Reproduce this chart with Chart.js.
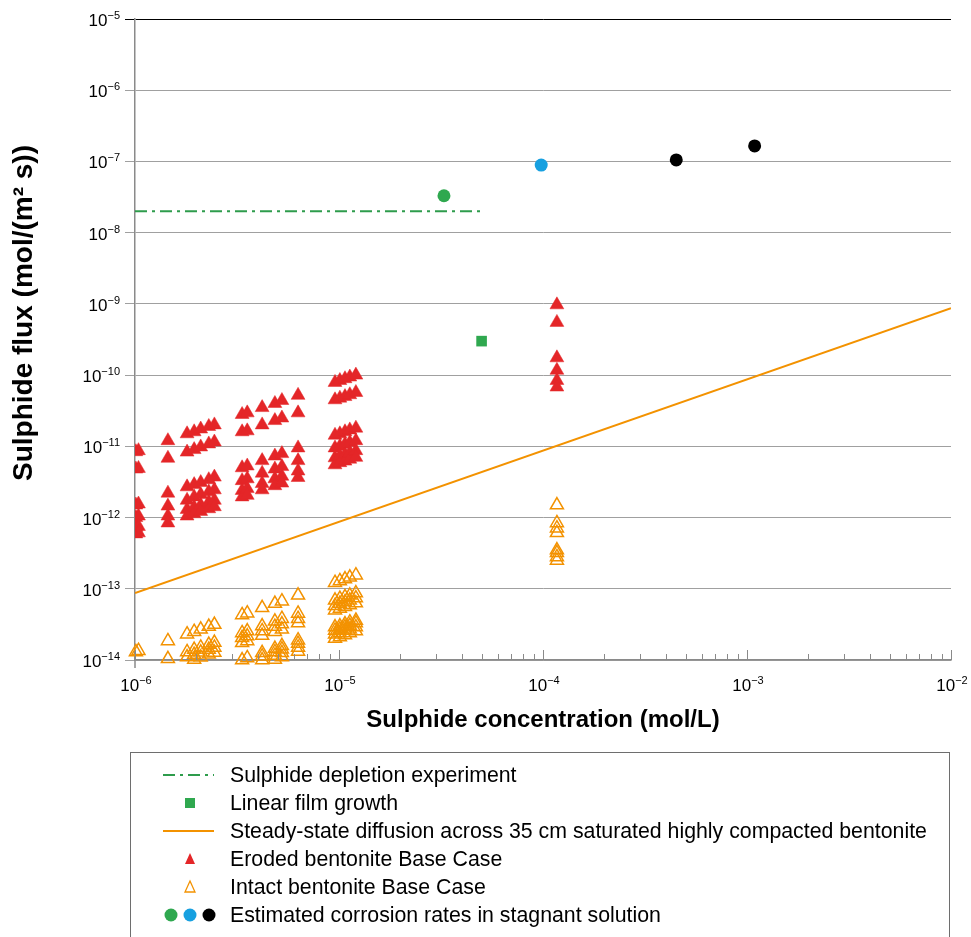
<!DOCTYPE html>
<html>
<head>
<meta charset="utf-8">
<script src="https://cdn.jsdelivr.net/npm/chart.js@4.4.1/dist/chart.umd.min.js"></script>
<style>
html,body{margin:0;padding:0;background:#fff;}
#wrap{width:971px;height:937px;position:relative;overflow:hidden;}
</style>
</head>
<body>
<div id="wrap"><canvas id="c" width="971" height="937"></canvas></div>
<script>
// ---------------- data ----------------
const xTickExponents = [-6, -5, -4, -3, -2];
const yTickExponents = [-5, -6, -7, -8, -9, -10, -11, -12, -13, -14];

const xAxisTitle = 'Sulphide concentration (mol/L)';
const yAxisTitle = 'Sulphide flux (mol/(m\u00B2 s))';

const legendLabels = [
  'Sulphide depletion experiment',
  'Linear film growth',
  'Steady-state diffusion across 35 cm saturated highly compacted bentonite',
  'Eroded bentonite Base Case',
  'Intact bentonite Base Case',
  'Estimated corrosion rates in stagnant solution'
];

const depletionConc = [1e-6, 5e-5];
const depletionFlux = [2e-8, 2e-8];

const filmConc = [5e-5];
const filmFlux = [3e-10];

const diffusionConc = [1e-6, 1e-2];
const diffusionFlux = [8.7e-14, 8.7e-10];

const corrosionConc = [3.27e-5, 9.8e-5, 4.5e-4, 1.09e-3];
const corrosionFlux = [3.3e-8, 8.9e-8, 1.05e-7, 1.65e-7];

const columnConc = [1.01e-6, 1.04e-6, 1.45e-6, 1.8e-6, 1.95e-6, 2.1e-6, 2.3e-6, 2.45e-6,
  3.35e-6, 3.55e-6, 4.2e-6, 4.85e-6, 5.25e-6, 6.3e-6,
  9.56e-6, 1.01e-5, 1.07e-5, 1.13e-5, 1.21e-5, 1.17e-4];

const erodedFlux = [
  [8.4e-12, 4.8e-12, 1.5e-12, 1.0e-12, 7.3e-13, 5.9e-13],
  [8.7e-12, 4.9e-12, 1.55e-12, 1.05e-12, 7.5e-13, 6.1e-13],
  [1.2e-11, 6.8e-12, 2.2e-12, 1.45e-12, 1.05e-12, 8.4e-13],
  [1.5e-11, 8.3e-12, 2.7e-12, 1.75e-12, 1.3e-12, 1.05e-12],
  [1.6e-11, 9.0e-12, 2.9e-12, 1.95e-12, 1.4e-12, 1.13e-12],
  [1.75e-11, 9.8e-12, 3.1e-12, 2.1e-12, 1.5e-12, 1.22e-12],
  [1.9e-11, 1.08e-11, 3.4e-12, 2.3e-12, 1.65e-12, 1.33e-12],
  [2.0e-11, 1.15e-11, 3.7e-12, 2.45e-12, 1.75e-12, 1.42e-12],
  [2.8e-11, 1.6e-11, 5.0e-12, 3.3e-12, 2.4e-12, 1.95e-12],
  [2.95e-11, 1.65e-11, 5.3e-12, 3.5e-12, 2.55e-12, 2.05e-12],
  [3.5e-11, 2.0e-11, 6.3e-12, 4.2e-12, 3.0e-12, 2.45e-12],
  [4.0e-11, 2.3e-11, 7.3e-12, 4.8e-12, 3.5e-12, 2.8e-12],
  [4.4e-11, 2.5e-11, 7.9e-12, 5.2e-12, 3.8e-12, 3.05e-12],
  [5.2e-11, 2.95e-11, 9.5e-12, 6.3e-12, 4.5e-12, 3.65e-12],
  [7.9e-11, 4.5e-11, 1.43e-11, 9.5e-12, 6.9e-12, 5.5e-12],
  [8.4e-11, 4.75e-11, 1.5e-11, 1.0e-11, 7.3e-12, 5.9e-12],
  [8.9e-11, 5.0e-11, 1.6e-11, 1.07e-11, 7.7e-12, 6.2e-12],
  [9.4e-11, 5.3e-11, 1.7e-11, 1.13e-11, 8.1e-12, 6.6e-12],
  [1.0e-10, 5.7e-11, 1.8e-11, 1.2e-11, 8.7e-12, 7.0e-12],
  [9.7e-10, 5.5e-10, 1.75e-10, 1.17e-10, 8.4e-11, 6.8e-11]
];

const intactFlux = [
  [1.3e-14],
  [1.35e-14],
  [1.85e-14, 1.04e-14],
  [2.3e-14, 1.3e-14, 1.1e-14],
  [2.5e-14, 1.4e-14, 1.19e-14, 1.02e-14],
  [2.7e-14, 1.5e-14, 1.28e-14, 1.09e-14],
  [2.95e-14, 1.65e-14, 1.4e-14, 1.2e-14],
  [3.15e-14, 1.76e-14, 1.5e-14, 1.27e-14],
  [4.3e-14, 2.4e-14, 2.05e-14, 1.74e-14, 1.0e-14],
  [4.55e-14, 2.55e-14, 2.17e-14, 1.85e-14, 1.07e-14],
  [5.4e-14, 3.0e-14, 2.56e-14, 2.2e-14, 1.26e-14, 1.13e-14, 1.0e-14],
  [6.2e-14, 3.5e-14, 2.95e-14, 2.5e-14, 1.45e-14, 1.3e-14, 1.16e-14, 1.02e-14],
  [6.7e-14, 3.8e-14, 3.2e-14, 2.7e-14, 1.58e-14, 1.42e-14, 1.26e-14, 1.1e-14],
  [8.1e-14, 4.5e-14, 3.8e-14, 3.3e-14, 1.9e-14, 1.7e-14, 1.5e-14, 1.32e-14],
  [1.22e-13, 6.9e-14, 5.8e-14, 5.0e-14, 2.9e-14, 2.6e-14, 2.3e-14, 2.0e-14],
  [1.29e-13, 7.3e-14, 6.2e-14, 5.3e-14, 3.0e-14, 2.7e-14, 2.4e-14, 2.1e-14],
  [1.37e-13, 7.7e-14, 6.5e-14, 5.6e-14, 3.2e-14, 2.9e-14, 2.6e-14, 2.25e-14],
  [1.45e-13, 8.1e-14, 6.9e-14, 5.9e-14, 3.4e-14, 3.05e-14, 2.7e-14, 2.4e-14],
  [1.55e-13, 8.7e-14, 7.4e-14, 6.3e-14, 3.6e-14, 3.3e-14, 2.9e-14, 2.55e-14],
  [1.5e-12, 8.4e-13, 7.1e-13, 6.1e-13, 3.5e-13, 3.2e-13, 2.8e-13, 2.5e-13]
];

// ---------------- styles ----------------
const C_RED = '#e42628';
const C_ORANGE = '#f39200';
const C_GREEN = '#2fa84f';
const C_GREEN_LINE = '#2e9c4c';
const C_BLUE = '#17a0e0';
const C_BLACK = '#000000';
const corrosionColors = [C_GREEN, C_BLUE, C_BLACK, C_BLACK];
const FONT = '"Liberation Sans", Arial, Helvetica, sans-serif';
const AXIS_COLOR = '#8a8a8a';
const GRID_COLOR = '#a0a0a0';

function pairs(xs, ys) { return xs.map((x, i) => ({x: x, y: ys[i]})); }
function columnPairs(cols, vals) {
  const out = [];
  cols.forEach((x, i) => vals[i].forEach(v => out.push({x: x, y: v})));
  return out;
}

function drawPower(ctx, exp, x, yBase, align, baseSize, supSize, supRise) {
  const base = '10';
  const sup = '\u2212' + Math.abs(exp);
  ctx.font = baseSize + 'px ' + FONT;
  const wb = ctx.measureText(base).width;
  ctx.font = supSize + 'px ' + FONT;
  const ws = ctx.measureText(sup).width;
  const total = wb + ws;
  const x0 = align === 'right' ? x - total : x - total / 2;
  ctx.textAlign = 'left';
  ctx.textBaseline = 'alphabetic';
  ctx.fillStyle = '#000';
  ctx.font = baseSize + 'px ' + FONT;
  ctx.fillText(base, x0, yBase);
  ctx.font = supSize + 'px ' + FONT;
  ctx.fillText(sup, x0 + wb, yBase - supRise);
}

const decorations = {
  id: 'decorations',
  afterDraw(chart) {
    const ctx = chart.ctx;
    const xs = chart.scales.x, ys = chart.scales.y;
    const area = chart.chartArea;
    ctx.save();

    // x minor / major ticks pointing inward
    ctx.strokeStyle = AXIS_COLOR;
    ctx.lineWidth = 1;
    const xMax = Math.pow(10, xTickExponents[xTickExponents.length - 1]);
    for (let i = 0; i < xTickExponents.length; i++) {
      const e = xTickExponents[i];
      for (let m = 1; m <= 9; m++) {
        const v = m * Math.pow(10, e);
        if (v > xMax * 1.0001) continue;
        const px = Math.round(xs.getPixelForValue(v)) + 0.5;
        const len = m === 1 ? 10 : 6;
        ctx.beginPath();
        ctx.moveTo(px, area.bottom);
        ctx.lineTo(px, area.bottom - len);
        ctx.stroke();
      }
    }
    // left axis extends slightly below
    ctx.lineWidth = 1.5;
    ctx.beginPath();
    ctx.moveTo(area.left, area.bottom);
    ctx.lineTo(area.left, area.bottom + 8);
    ctx.stroke();

    // x tick labels
    xTickExponents.forEach(e => {
      const px = xs.getPixelForValue(Math.pow(10, e));
      drawPower(ctx, e, px + 1, area.bottom + 31, 'center', 17, 11, 7);
    });
    // y tick labels
    yTickExponents.forEach(e => {
      const py = ys.getPixelForValue(Math.pow(10, e));
      drawPower(ctx, e, area.left - 15, py + 7, 'right', 17, 11, 7);
    });

    // axis titles
    ctx.fillStyle = '#000';
    ctx.font = 'bold 24px ' + FONT;
    ctx.textAlign = 'center';
    ctx.textBaseline = 'alphabetic';
    ctx.fillText(xAxisTitle, (area.left + area.right) / 2, area.bottom + 67);
    ctx.save();
    ctx.translate(32, 313);
    ctx.rotate(-Math.PI / 2);
    ctx.font = 'bold 28px ' + FONT;
    ctx.fillText(yAxisTitle, 0, 0);
    ctx.restore();

    // legend box
    ctx.strokeStyle = '#6e6e6e';
    ctx.lineWidth = 1;
    ctx.strokeRect(130.5, 752.5, 819, 220);
    const rowY = [775, 803, 831, 859, 887, 915];
    const textX = 230;
    ctx.font = '21.3px ' + FONT;
    ctx.textAlign = 'left';
    ctx.textBaseline = 'middle';
    ctx.fillStyle = '#000';
    legendLabels.forEach((t, i) => ctx.fillText(t, textX, rowY[i] + 1));

    // legend symbols
    ctx.lineWidth = 2;
    ctx.strokeStyle = C_GREEN_LINE;
    ctx.setLineDash([12, 5, 3, 5]);
    ctx.beginPath(); ctx.moveTo(163, rowY[0]); ctx.lineTo(214, rowY[0]); ctx.stroke();
    ctx.setLineDash([]);
    ctx.fillStyle = C_GREEN;
    ctx.fillRect(185, rowY[1] - 5, 10, 10);
    ctx.strokeStyle = C_ORANGE;
    ctx.beginPath(); ctx.moveTo(163, rowY[2]); ctx.lineTo(214, rowY[2]); ctx.stroke();
    ctx.fillStyle = C_RED;
    ctx.beginPath(); ctx.moveTo(190, rowY[3] - 6); ctx.lineTo(195, rowY[3] + 5); ctx.lineTo(185, rowY[3] + 5); ctx.closePath(); ctx.fill();
    ctx.strokeStyle = C_ORANGE; ctx.lineWidth = 1.3;
    ctx.beginPath(); ctx.moveTo(190, rowY[4] - 6); ctx.lineTo(195, rowY[4] + 5); ctx.lineTo(185, rowY[4] + 5); ctx.closePath(); ctx.stroke();
    [[171, C_GREEN], [190, C_BLUE], [209, C_BLACK]].forEach(([cx, col]) => {
      ctx.fillStyle = col;
      ctx.beginPath(); ctx.arc(cx, rowY[5], 6.5, 0, Math.PI * 2); ctx.fill();
    });

    ctx.restore();
  }
};

new Chart(document.getElementById('c'), {
  type: 'scatter',
  data: {
    datasets: [
      {
        label: legendLabels[0], type: 'line', data: pairs(depletionConc, depletionFlux),
        borderColor: C_GREEN_LINE, borderWidth: 2, borderDash: [12, 5, 3, 5],
        pointRadius: 0, showLine: true, fill: false
      },
      {
        label: legendLabels[2], type: 'line', data: pairs(diffusionConc, diffusionFlux),
        borderColor: C_ORANGE, borderWidth: 2, pointRadius: 0, showLine: true, fill: false
      },
      {
        label: legendLabels[4], data: columnPairs(columnConc, intactFlux),
        pointStyle: 'triangle', pointRadius: 7.5, borderColor: C_ORANGE, borderWidth: 1.5,
        backgroundColor: 'rgba(0,0,0,0)', clip: false
      },
      {
        label: legendLabels[3], data: columnPairs(columnConc, erodedFlux),
        pointStyle: 'triangle', pointRadius: 8, borderColor: C_RED, borderWidth: 0.5,
        backgroundColor: C_RED
      },
      {
        label: legendLabels[1], data: pairs(filmConc, filmFlux),
        pointStyle: 'rect', pointRadius: 7.5, borderWidth: 0, backgroundColor: C_GREEN
      },
      {
        label: legendLabels[5], data: pairs(corrosionConc, corrosionFlux),
        pointStyle: 'circle', pointRadius: 6.5, borderWidth: 0,
        backgroundColor: corrosionColors, borderColor: corrosionColors
      }
    ]
  },
  options: {
    responsive: false,
    animation: false,
    devicePixelRatio: 1,
    layout: { padding: { left: 125, right: 20, top: 19, bottom: 277 } },
    plugins: { legend: { display: false }, tooltip: { enabled: false } },
    scales: {
      x: {
        type: 'logarithmic', min: 1e-6, max: 1e-2,
        ticks: { display: false },
        grid: { display: false, drawTicks: false },
        border: { display: true, color: AXIS_COLOR, width: 1.5 }
      },
      y: {
        type: 'logarithmic', min: 1e-14, max: 1e-5,
        afterBuildTicks: (scale) => {
          scale.ticks = yTickExponents.map(e => ({value: Math.pow(10, e)}));
        },
        ticks: { display: false },
        grid: {
          display: true, drawTicks: true, tickLength: 10,
          color: (c) => (c.tick && Math.abs(Math.log10(c.tick.value) + 5) < 1e-6) ? '#000' : GRID_COLOR,
          lineWidth: 1
        },
        border: { display: true, color: AXIS_COLOR, width: 1.5 }
      }
    }
  },
  plugins: [decorations]
});
</script>
</body>
</html>
